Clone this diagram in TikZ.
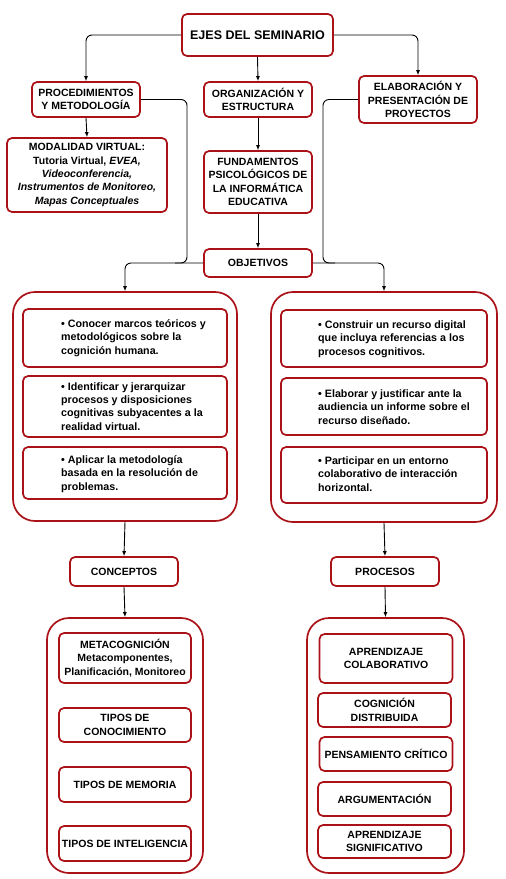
\documentclass[tikz,border=0pt]{standalone}
\usepackage{fontspec}
\setmainfont{Liberation Sans}
\usetikzlibrary{arrows.meta}
\definecolor{rojo}{RGB}{170,18,24}
\begin{document}
\begin{tikzpicture}[x=1pt,y=-1pt,
  box/.style={draw=rojo,line width=1.7pt,rounded corners=5pt,fill=white,align=center,inner sep=1pt,
    font=\fontsize{10.5}{13.3}\selectfont\bfseries},
  bigbox/.style={draw=rojo,line width=1.7pt,rounded corners=22pt,inner sep=0pt},
  txt/.style={align=left,anchor=west,inner sep=0pt,font=\fontsize{10.7}{13.3}\selectfont\bfseries},
  link/.style={draw,line width=0.9pt,rounded corners=6pt},
  arr/.style={link,-{Latex[length=5pt,width=4pt]}}]
  \useasboundingbox (0,0) rectangle (506,879);
  % upper part
  \node[box,minimum width=151,minimum height=42,font=\fontsize{12.5}{15}\selectfont\bfseries] (ejes) at (257.5,35) {EJES DEL SEMINARIO};
  \node[box,minimum width=108,minimum height=35] (proc) at (86,99.5) {PROCEDIMIENTOS\\Y METODOLOGÍA};
  \node[box,minimum width=108,minimum height=35] (org) at (258,99.5) {ORGANIZACIÓN Y\\ESTRUCTURA};
  \node[box,minimum width=118,minimum height=47] (elab) at (418,99.5) {ELABORACIÓN Y\\PRESENTACIÓN DE\\PROYECTOS};
  \node[box,minimum width=160,minimum height=74] (modal) at (87,175) {MODALIDAD VIRTUAL:\\Tutoria Virtual, \textit{EVEA,}\\\textit{Videoconferencia,}\\\textit{Instrumentos de Monitoreo,}\\\textit{Mapas Conceptuales}};
  \node[box,minimum width=108,minimum height=62] (fund) at (258,182) {FUNDAMENTOS\\PSICOLÓGICOS DE\\LA INFORMÁTICA\\EDUCATIVA};
  \node[box,minimum width=108,minimum height=28] (obj) at (258,263) {OBJETIVOS};
  \coordinate (mL) at (187,263);
  \coordinate (mR) at (323,263);

  \draw[arr] (ejes.west) -| (proc.north);
  \draw[arr] (ejes.east) -| (elab.north);
  \draw[arr] (ejes.south) -- (org.north);
  \draw[arr] (proc.south) -- (modal.north);
  \draw[arr] (org.south) -- (fund.north);
  \draw[arr] (fund.south) -- (obj.north);
  \draw[link] (proc.east) -| (mL) -- ++(-12,0);
  \draw[link] (elab.west) -| (mR) -- ++(12,0);

  % objetivos
  \node[bigbox,minimum width=224,minimum height=229] (bigL) at (125,406.5) {};
  \node[bigbox,minimum width=226,minimum height=230] (bigR) at (384,407) {};
  \draw[arr] (obj.west) -| (bigL.north);
  \draw[arr] (obj.east) -| (bigR.north);

  \node[box,minimum width=204,minimum height=58] (o1) at (125,338) {};
  \node[box,minimum width=204,minimum height=61] (o2) at (125,406.5) {};
  \node[box,minimum width=204,minimum height=52] (o3) at (125,473) {};
  \node[box,minimum width=206,minimum height=57] (r1) at (384,338.5) {};
  \node[box,minimum width=206,minimum height=57] (r2) at (384,406.5) {};
  \node[box,minimum width=206,minimum height=56] (r3) at (384,475) {};
  \node[txt] (t1) at (61,338) {• Conocer marcos teóricos y\\metodológicos sobre la\\cognición humana.};
  \node[txt] (t2) at (61,406.5) {• Identificar y jerarquizar\\procesos y disposiciones\\cognitivas subyacentes a la\\realidad virtual.};
  \node[txt] (t3) at (61,474) {• Aplicar la metodología\\basada en la resolución de\\problemas.};
  \node[txt] (t4) at (318,339) {• Construir un recurso digital\\que incluya referencias a los\\procesos cognitivos.};
  \node[txt] (t5) at (318,407) {• Elaborar y justificar ante la\\audiencia un informe sobre el\\recurso diseñado.};
  \node[txt] (t6) at (318,474) {• Participar en un entorno\\colaborativo de interacción\\horizontal.};

  % conceptos y procesos
  \node[box,minimum width=108,minimum height=29] (conc) at (124,571.5) {CONCEPTOS};
  \node[box,minimum width=108,minimum height=29] (proces) at (385,571.5) {PROCESOS};
  \draw[arr] (bigL.south) -- (conc.north);
  \draw[arr] (bigR.south) -- (proces.north);
  \node[bigbox,minimum width=156,minimum height=255] (bigBL) at (125,745.5) {};
  \node[bigbox,minimum width=157,minimum height=255] (bigBR) at (385.5,745.5) {};
  \draw[arr] (conc.south) -- (bigBL.north);
  \draw[arr] (proces.south) -- (bigBR.north);

  \node[box,minimum width=132,minimum height=50] (meta) at (125,658) {METACOGNICIÓN\\Metacomponentes,\\Planificación, Monitoreo};
  \node[box,minimum width=132,minimum height=34] (tcon) at (125,725) {TIPOS DE\\CONOCIMIENTO};
  \node[box,minimum width=132,minimum height=35] (tmem) at (125,784.5) {TIPOS DE MEMORIA};
  \node[box,minimum width=132,minimum height=35] (tint) at (125,843.5) {TIPOS DE INTELIGENCIA};
  \node[box,minimum width=133,minimum height=49] (apc) at (386,658.5) {APRENDIZAJE\\COLABORATIVO};
  \node[box,minimum width=133,minimum height=34] (cdis) at (384.5,710) {COGNICIÓN\\DISTRIBUIDA};
  \node[box,minimum width=133,minimum height=34] (pcri) at (386,754) {PENSAMIENTO CRÍTICO};
  \node[box,minimum width=133,minimum height=34] (argu) at (384.5,799) {ARGUMENTACIÓN};
  \node[box,minimum width=133,minimum height=33] (aps) at (384.5,841.5) {APRENDIZAJE\\SIGNIFICATIVO};
\end{tikzpicture}
\end{document}
